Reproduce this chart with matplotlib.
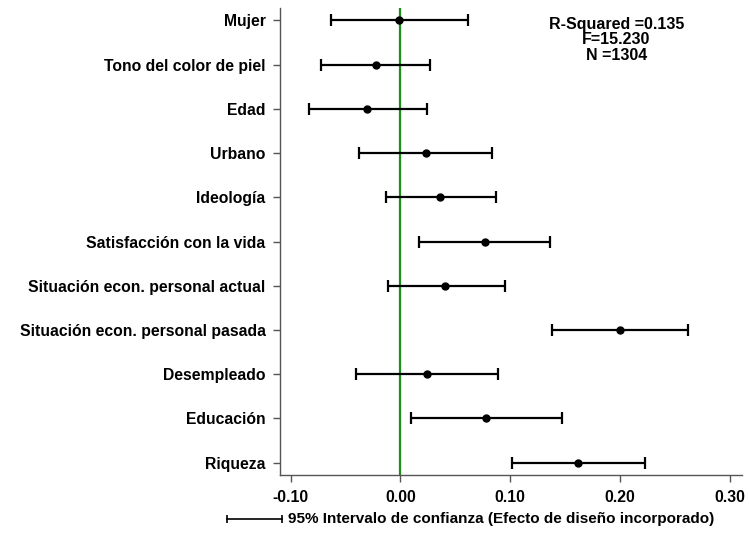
import matplotlib
matplotlib.use('Agg')
import matplotlib.pyplot as plt
from matplotlib.lines import Line2D

# Coeficientes y IC 95%
variables = ["Mujer", "Tono del color de piel", "Edad", "Urbano", "Ideología",
             "Satisfacción con la vida", "Situación econ. personal actual",
             "Situación econ. personal pasada", "Desempleado", "Educación", "Riqueza"]
coef = [-0.001, -0.022, -0.030, 0.023, 0.036, 0.077, 0.041, 0.200, 0.024, 0.078, 0.162]
ci_low = [-0.063, -0.072, -0.083, -0.038, -0.013, 0.017, -0.011, 0.138, -0.040, 0.010, 0.102]
ci_high = [0.062, 0.027, 0.024, 0.083, 0.087, 0.136, 0.095, 0.262, 0.089, 0.147, 0.223]
x_ticks = [-0.10, 0.00, 0.10, 0.20, 0.30]
stats_text = "R-Squared =0.135\nF=15.230\nN =1304"

plt.rcParams['font.family'] = ['Liberation Sans', 'DejaVu Sans']
plt.rcParams['font.weight'] = 'bold'

fig = plt.figure(figsize=(7.49, 5.35), dpi=100)
ax = fig.add_axes([0.3732, 0.1121, 0.6175, 0.8729])

n = len(variables)
ypos = list(range(n, 0, -1))
err_lo = [c - l for c, l in zip(coef, ci_low)]
err_hi = [h - c for c, h in zip(coef, ci_high)]

ax.axvline(0, color='#1a8f1a', lw=1.6, zorder=1)
ax.errorbar(coef, ypos, xerr=[err_lo, err_hi], fmt='o', color='black',
            ms=5, elinewidth=1.6, capsize=4, capthick=1.6, zorder=3)

ax.set_yticks(ypos)
ax.set_yticklabels(variables, fontsize=11.3, fontweight='bold')
ax.set_xticks(x_ticks)
ax.set_xticklabels([f"{t:.2f}" for t in x_ticks], fontsize=11.3, fontweight='bold')
ax.set_xlim(-0.110, 0.311)
ax.set_ylim(0.72, n + 0.28)

for side in ['top', 'right']:
    ax.spines[side].set_visible(False)
for side in ['left', 'bottom']:
    ax.spines[side].set_color('#555555')
    ax.spines[side].set_linewidth(1.0)
ax.tick_params(axis='both', length=5, width=1.0, color='#555555', pad=5)
ax.tick_params(axis='x', pad=6)

ax.text(0.728, 0.981, stats_text, transform=ax.transAxes, ha='center', va='top',
        fontsize=11.5, fontweight='bold', linespacing=1.05)

# leyenda del intervalo de confianza
ly = 1 - 519 / 535
fig.add_artist(Line2D([227 / 749, 282 / 749], [ly, ly], color='black', lw=1.2))
fig.add_artist(Line2D([227 / 749, 282 / 749], [ly, ly], color='black', lw=0,
                      marker='|', ms=6, mew=1.2))
fig.text(288 / 749, ly, "95% Intervalo de confianza (Efecto de diseño incorporado)",
         ha='left', va='center', fontsize=11, fontweight='bold')

fig.savefig('out.png', dpi=100)
